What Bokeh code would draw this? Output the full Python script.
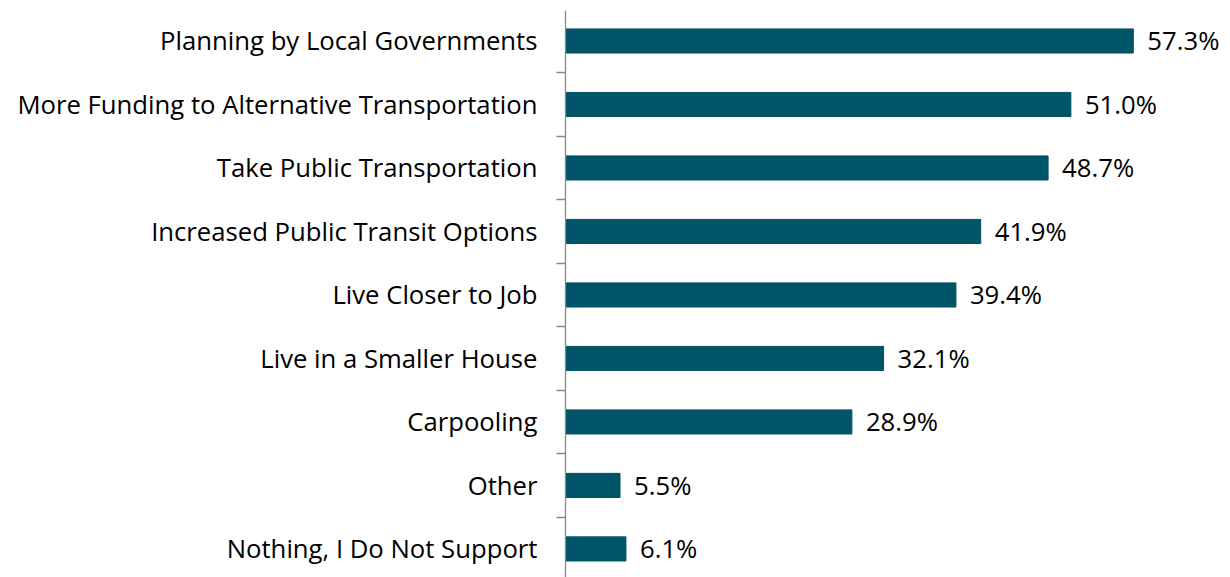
from bokeh.plotting import figure
from bokeh.models import Range1d, FixedTicker, ColumnDataSource
from bokeh.core.properties import value
from bokeh.embed import file_html
from bokeh.resources import INLINE

categories = [
    "Planning by Local Governments",
    "More Funding to Alternative Transportation",
    "Take Public Transportation",
    "Increased Public Transit Options",
    "Live Closer to Job",
    "Live in a Smaller House",
    "Carpooling",
    "Other",
    "Nothing, I Do Not Support",
]
values = [57.3, 51.0, 48.7, 41.9, 39.4, 32.1, 28.9, 5.5, 6.1]
value_labels = ["57.3%", "51.0%", "48.7%", "41.9%", "39.4%", "32.1%", "28.9%", "5.5%", "6.1%"]

n = len(categories)
ypos = [n - 1 - i for i in range(n)]
FONT = "Open Sans"
BAR = "#005468"

src = ColumnDataSource(dict(y=ypos, v=values, lab=value_labels))

p = figure(width=1222, height=577, output_backend="svg", toolbar_location=None,
           x_range=Range1d(0, 66.3), y_range=Range1d(-0.45, 8.48),
           min_border_left=565, min_border_right=0, min_border_top=10, min_border_bottom=0,
           frame_width=657, frame_height=567)
p.outline_line_color = None
p.xgrid.visible = False
p.ygrid.visible = False
p.xaxis.visible = False
p.background_fill_color = "white"
p.border_fill_color = "white"

p.hbar(y="y", right="v", left=0, height=0.38, source=src, fill_color=BAR, line_color=BAR)
p.text(x="v", y="y", text="lab", source=src, x_offset=14, text_align="left", text_baseline="middle",
       text_font=value(FONT), text_font_size="25.7px", text_color="black")

ax = p.yaxis[0]
ax.ticker = FixedTicker(ticks=ypos, minor_ticks=[k + 0.5 for k in range(-1, n)])
ax.major_label_overrides = {float(y): c for y, c in zip(ypos, categories)}
ax.major_tick_out = 0
ax.major_tick_in = 0
ax.minor_tick_out = 9
ax.minor_tick_in = 0
ax.minor_tick_line_color = "#888888"
ax.minor_tick_line_width = 1.3
ax.axis_line_color = "#888888"
ax.axis_line_width = 1.3
ax.major_label_standoff = 19
ax.major_label_text_font = FONT
ax.major_label_text_font_size = "25.7px"
ax.major_label_text_color = "black"

open("out.html", "w").write(file_html(p, INLINE))
